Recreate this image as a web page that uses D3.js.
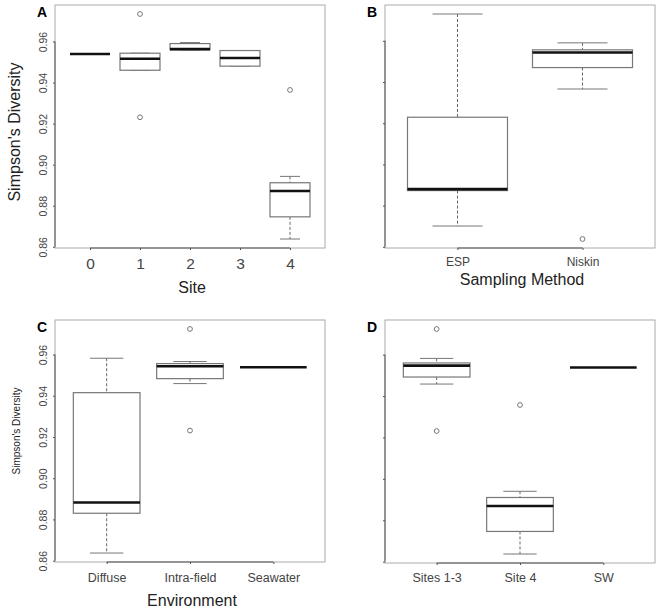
<!DOCTYPE html>
<html>
<head>
  <meta charset="utf-8">
  <script src="https://d3js.org/d3.v7.min.js"></script>
  <style>
    body { margin: 0; background: #fff; }
    text { font-family: "Liberation Sans", Arial, Helvetica, sans-serif; fill: #222; }
    .tick-label { fill: #444; }
  </style>
</head>
<body>
<svg id="chart" width="660" height="610"></svg>
<script>

// ---- data : [lower whisker, Q1, median, Q3, upper whisker]
const siteCats = ["0", "1", "2", "3", "4"];
const siteStats = [
  [0.9539, 0.9539, 0.9539, 0.9539, 0.9539],
  [0.9460, 0.9460, 0.9516, 0.9543, 0.9543],
  [0.9560, 0.9560, 0.9563, 0.9590, 0.9595],
  [0.9480, 0.9480, 0.9520, 0.9556, 0.9556],
  [0.8638, 0.8746, 0.8872, 0.8912, 0.8943]
];
const siteOutliers = [[], [0.9734, 0.9231], [], [], [0.9364]];

const methodCats = ["ESP", "Niskin"];
const methodStats = [
  [0.8701, 0.8873, 0.8880, 0.9229, 0.9730],
  [0.9366, 0.9470, 0.9543, 0.9556, 0.9590]
];
const methodOutliers = [[], [0.8638]];

const envCats = ["Diffuse", "Intra-field", "Seawater"];
const envStats = [
  [0.8637, 0.8830, 0.8882, 0.9415, 0.9582],
  [0.9459, 0.9483, 0.9543, 0.9556, 0.9566],
  [0.9538, 0.9538, 0.9538, 0.9538, 0.9538]
];
const envOutliers = [[], [0.9724, 0.9231], []];

const groupCats = ["Sites 1-3", "Site 4", "SW"];
const groupStats = [
  [0.9458, 0.9492, 0.9547, 0.9560, 0.9582],
  [0.8637, 0.8746, 0.8869, 0.8910, 0.8940],
  [0.9538, 0.9538, 0.9538, 0.9538, 0.9538]
];
const groupOutliers = [[0.9724, 0.9231], [0.9357], []];

const yTicks = [0.86, 0.88, 0.90, 0.92, 0.94, 0.96];

const svg = d3.select("#chart");

function drawPanel(p) {
  const g = svg.append("g");
  const n = p.cats.length;

  // R-style limits: groups at 1..n, xlim = [0.5, n+0.5] widened 4%
  const xPad = n * 0.04;
  const x = d3.scaleLinear().domain([0.5 - xPad, n + 0.5 + xPad]).range([p.left, p.right]);
  const all = p.stats.flat().concat(p.outliers.flat());
  const ext = d3.extent(all);
  const yPad = (ext[1] - ext[0]) * 0.04;
  const y = d3.scaleLinear().domain([ext[0] - yPad, ext[1] + yPad]).range([p.bottom, p.top]);

  // frame
  g.append("rect").attr("x", p.left).attr("y", p.top)
    .attr("width", p.right - p.left).attr("height", p.bottom - p.top)
    .attr("fill", "none").attr("stroke", "#aaa").attr("stroke-width", 1);

  // x axis: line from first to last tick, tiny ticks, labels
  const xAxis = d3.axisBottom(x).tickValues(d3.range(1, n + 1))
    .tickSize(2).tickSizeOuter(0).tickFormat((d, i) => p.cats[i]);
  const xg = g.append("g").attr("transform", "translate(0," + p.bottom + ")").call(xAxis);
  xg.select(".domain").attr("d", "M" + x(1) + ",0H" + x(n)).attr("stroke", "#555");
  xg.selectAll(".tick line").attr("stroke", "#555");
  xg.selectAll(".tick text").attr("class", "tick-label")
    .attr("y", p.xTickY).attr("dy", null)
    .style("font-size", p.xTickSize + "px")
    .style("font-family", "'Liberation Sans', Arial, sans-serif");

  // y axis
  const yAxis = d3.axisLeft(y).tickValues(yTicks).tickSize(2).tickSizeOuter(0)
    .tickFormat(p.yLabels ? d3.format(".2f") : "");
  const yg = g.append("g").attr("transform", "translate(" + p.left + ",0)").call(yAxis);
  yg.select(".domain").attr("d", "M0," + y(yTicks[0]) + "V" + y(yTicks[yTicks.length - 1])).attr("stroke", "#555");
  yg.selectAll(".tick line").attr("stroke", "#555");
  yg.selectAll(".tick text").attr("class", "tick-label")
    .attr("x", null).attr("dy", null)
    .attr("text-anchor", "middle")
    .attr("transform", "translate(-8,0) rotate(-90)")
    .style("font-size", "10.5px")
    .style("font-family", "'Liberation Sans', Arial, sans-serif");

  // boxes
  const bw = 0.4; // half of 0.8 box width
  p.stats.forEach((s, i) => {
    const cx = i + 1;
    const [lo, q1, med, q3, hi] = s;
    const bg = g.append("g");
    if (q3 > q1) {
      // whiskers
      bg.append("line").attr("x1", x(cx)).attr("x2", x(cx)).attr("y1", y(hi)).attr("y2", y(q3))
        .attr("stroke", "#666").attr("stroke-dasharray", "3,2");
      bg.append("line").attr("x1", x(cx)).attr("x2", x(cx)).attr("y1", y(q1)).attr("y2", y(lo))
        .attr("stroke", "#666").attr("stroke-dasharray", "3,2");
      bg.append("line").attr("x1", x(cx - bw / 2)).attr("x2", x(cx + bw / 2)).attr("y1", y(hi)).attr("y2", y(hi))
        .attr("stroke", "#777");
      bg.append("line").attr("x1", x(cx - bw / 2)).attr("x2", x(cx + bw / 2)).attr("y1", y(lo)).attr("y2", y(lo))
        .attr("stroke", "#777");
      bg.append("rect").attr("x", x(cx - bw)).attr("y", y(q3))
        .attr("width", x(cx + bw) - x(cx - bw)).attr("height", y(q1) - y(q3))
        .attr("fill", "#fff").attr("stroke", "#777").attr("stroke-width", 1.2);
    }
    bg.append("line").attr("x1", x(cx - bw)).attr("x2", x(cx + bw)).attr("y1", y(med)).attr("y2", y(med))
      .attr("stroke", "#111").attr("stroke-width", 2.6);
    p.outliers[i].forEach(v => {
      bg.append("circle").attr("cx", x(cx)).attr("cy", y(v)).attr("r", 2.4)
        .attr("fill", "none").attr("stroke", "#777").attr("stroke-width", 1);
    });
  });

  // panel letter
  g.append("text").attr("x", p.left - 18).attr("y", p.top + 12)
    .style("font-size", "14px").style("font-weight", "bold").style("fill", "#000")
    .text(p.letter);

  // axis titles
  if (p.xTitle) {
    g.append("text").attr("x", (p.left + p.right) / 2 + 2).attr("y", p.xTitleY)
      .attr("text-anchor", "middle").style("font-size", "16px").text(p.xTitle);
  }
  if (p.yTitle) {
    g.append("text").attr("transform", "translate(20," + p.yTitleMid + ") rotate(-90)")
      .attr("text-anchor", "middle").style("font-size", p.yTitleSize + "px").text(p.yTitle);
  }
}

drawPanel({ letter: "A", left: 55, right: 325, top: 5, bottom: 248,
  cats: siteCats, stats: siteStats, outliers: siteOutliers,
  xTickSize: 15.5, xTickY: 21, yLabels: true,
  xTitle: "Site", xTitleY: 293, yTitle: "Simpson's Diversity", yTitleSize: 16, yTitleMid: 132 });

drawPanel({ letter: "B", left: 385, right: 655, top: 5, bottom: 248,
  cats: methodCats, stats: methodStats, outliers: methodOutliers,
  xTickSize: 12, xTickY: 18, yLabels: false,
  xTitle: "Sampling Method", xTitleY: 285 });

drawPanel({ letter: "C", left: 55, right: 325, top: 320, bottom: 562,
  cats: envCats, stats: envStats, outliers: envOutliers,
  xTickSize: 12.5, xTickY: 20, yLabels: true,
  xTitle: "Environment", xTitleY: 606, yTitle: "Simpson's Diversity", yTitleSize: 10, yTitleMid: 431 });

drawPanel({ letter: "D", left: 385, right: 655, top: 320, bottom: 563,
  cats: groupCats, stats: groupStats, outliers: groupOutliers,
  xTickSize: 12.5, xTickY: 19, yLabels: false });

</script>
</body>
</html>
